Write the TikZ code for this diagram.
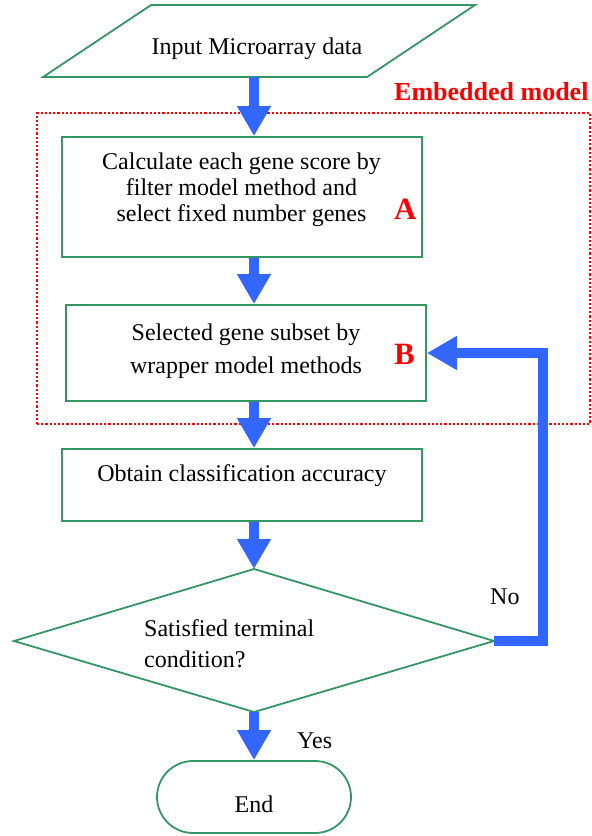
\documentclass[tikz,border=0pt]{standalone}
\usepackage{fontspec}
\setmainfont{Liberation Serif}
\usetikzlibrary{arrows.meta}
\definecolor{boxgreen}{RGB}{51,150,100}
\definecolor{flowblue}{RGB}{51,102,255}
\definecolor{lblred}{RGB}{255,0,0}
\begin{document}
\begin{tikzpicture}[x=1pt,y=-1pt,
  box/.style={draw=boxgreen,line width=1.8pt,inner sep=0pt},
  txt/.style={inner sep=0pt,font=\fontsize{24}{26}\selectfont},
  flow/.style={draw=flowblue,line width=10pt,line join=miter,-{Triangle[width=32pt,length=30pt]}},
  tag/.style={inner sep=0pt,text=lblred,font=\bfseries\fontsize{31}{31}\selectfont},
  embedbox/.style={draw=lblred,line width=2.2pt,dash pattern=on 2.2pt off 2pt,inner sep=0pt}]
\useasboundingbox (0,0) rectangle (592,836);

% input parallelogram
\coordinate (p1) at (151,5);
\coordinate (p2) at (475,5);
\coordinate (p3) at (367,77);
\coordinate (p4) at (43,77);
\draw[box] (p1) -- (p2) -- (p3) -- (p4) -- cycle;
\node[txt,anchor=base] (intxt) at (257,54) {Input Microarray data};
\coordinate (inbot) at (254,77);

% embedded model frame
\node[embedbox,minimum width=553pt,minimum height=311pt] (embed) at (313.5,268.5) {};
\node[anchor=base west,inner sep=0pt,text=lblred,font=\bfseries\fontsize{26}{26}\selectfont] (embedlbl) at (394,100) {Embedded model};

% flow axis
\coordinate (ax) at (254,0);

% box A
\node[box,minimum width=360pt,minimum height=120pt] (boxA) at (242,197) {};
\node[txt,align=center,font=\fontsize{24}{26}\selectfont] (txtA) at (241.5,189.5) {Calculate each gene score by\\filter model method and\\select fixed number genes};
\node[tag,anchor=base west] (tagA) at (394,219) {A};

% box B
\node[box,minimum width=360pt,minimum height=96pt] (boxB) at (246,353) {};
\node[txt,align=center,font=\fontsize{24}{33}\selectfont] (txtB) at (246,351) {Selected gene subset by\\wrapper model methods};
\node[tag,anchor=base west] (tagB) at (394,364) {B};

% box C
\node[box,minimum width=360pt,minimum height=72pt] (boxC) at (242,485) {};
\node[txt,anchor=base] (txtC) at (242,481) {Obtain classification accuracy};

% decision diamond
\coordinate (dtop) at (254,569);
\coordinate (dright) at (494,641);
\coordinate (dbot) at (254,712);
\coordinate (dleft) at (14,641);
\draw[box] (dtop) -- (dright) -- (dbot) -- (dleft) -- cycle;
\node[txt,align=left,anchor=west,font=\fontsize{24}{31}\selectfont] (txtD) at (144,643.4) {Satisfied terminal\\condition?};

% end terminal
\node[box,rounded corners=36pt,minimum width=194pt,minimum height=72pt] (endbox) at (254,797) {};
\node[txt,anchor=base] (endtxt) at (254,812) {End};

% connectors
\draw[flow] (inbot) -- (boxA.north -| ax);
\draw[flow] (boxA.south -| ax) -- (boxB.north -| ax);
\draw[flow] (boxB.south -| ax) -- (boxC.north -| ax);
\draw[flow] (boxC.south -| ax) -- (dtop);
\draw[flow] (dbot) -- (endbox.north);
\coordinate (fbx) at (542.5,0);
\draw[flow] (dright) -- (dright -| fbx) -- (boxB.east -| fbx) -- (boxB.east);

\node[txt,anchor=base west] (nolbl) at (490,604) {No};
\node[txt,anchor=base west] (yeslbl) at (297,748) {Yes};
\end{tikzpicture}
\end{document}
